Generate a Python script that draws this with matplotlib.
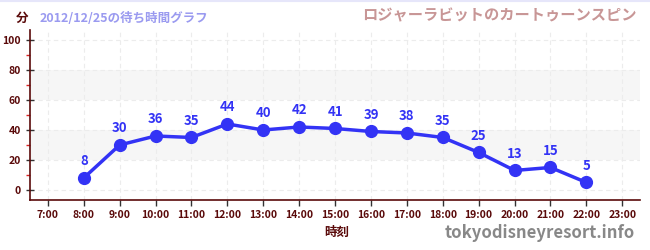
import matplotlib.pyplot as plt
from matplotlib.ticker import MultipleLocator

plt.rcParams['font.family'] = ['Noto Sans CJK JP', 'DejaVu Sans']

# Wait times for 2012/12/25
hours = [8, 9, 10, 11, 12, 13, 14, 15, 16, 17, 18, 19, 20, 21, 22]
waits = [8, 30, 36, 35, 44, 40, 42, 41, 39, 38, 35, 25, 13, 15, 5]
tick_hours = list(range(7, 24))
tick_labels = [f'{h}:00' for h in tick_hours]

dark = '#5a0a0a'
blue = '#3333f5'

fig = plt.figure(figsize=(6.5, 2.5), dpi=100)
ax = fig.add_axes([0.046, 0.2, 0.939, 0.68])

# light bands
for lo, hi in [(20, 40), (60, 80)]:
    ax.axhspan(lo, hi, color='#f6f6f6', zorder=0, lw=0)

ax.set_xlim(6.5, 23.5)
ax.set_ylim(-6.7, 106.7)
ax.set_xticks(tick_hours)
ax.set_xticklabels(tick_labels)
ax.set_yticks([0, 20, 40, 60, 80, 100])
ax.yaxis.set_minor_locator(MultipleLocator(10))
ax.grid(True, which='major', color='#ececec', linestyle=(0, (4, 3)), linewidth=0.8, zorder=0)

for s in ['top', 'right']:
    ax.spines[s].set_visible(False)
for s in ['left', 'bottom']:
    ax.spines[s].set_color(dark)
    ax.spines[s].set_linewidth(1.2)

ax.tick_params(axis='both', which='major', colors='#333333', labelcolor=dark,
               labelsize=7.5, length=4, width=1)
ax.tick_params(axis='y', which='minor', colors='#dd2222', length=3, width=1)
ax.tick_params(axis='y', which='major', direction='inout', length=6)
for lab in ax.get_xticklabels() + ax.get_yticklabels():
    lab.set_fontweight('bold')

ax.plot(hours, waits, color=blue, lw=2.5, marker='o', markersize=8.5, zorder=3)
for h, w in zip(hours, waits):
    ax.annotate(str(w), (h, w), xytext=(0, 7), textcoords='offset points',
                ha='center', va='bottom', color=blue, fontsize=9.5, fontweight='bold')

fig.text(22 / 650, 1 - 18 / 250, '分', color=dark, fontsize=9, fontweight='bold',
         ha='center', va='center')
fig.text(40 / 650, 1 - 18 / 250, '2012/12/25の待ち時間グラフ', color='#9a9af0',
         fontsize=9, fontweight='bold', ha='left', va='center')
fig.text(637 / 650, 1 - 15 / 250, 'ロジャーラビットのカートゥーンスピン', color='#c89696',
         fontsize=11, fontweight='bold', ha='right', va='center')
fig.text(337 / 650, 1 - 232 / 250, '時刻', color=dark, fontsize=9, fontweight='bold',
         ha='center', va='center')
fig.text(635 / 650, 1 - 233 / 250, 'tokyodisneyresort.info', color='#888888',
         fontsize=12, fontweight='bold', ha='right', va='center')

fig.add_artist(plt.Line2D([0, 1], [0.998, 0.998], color='#e6e6fa', lw=1.5,
                          transform=fig.transFigure))

fig.savefig('out.png', dpi=100)
